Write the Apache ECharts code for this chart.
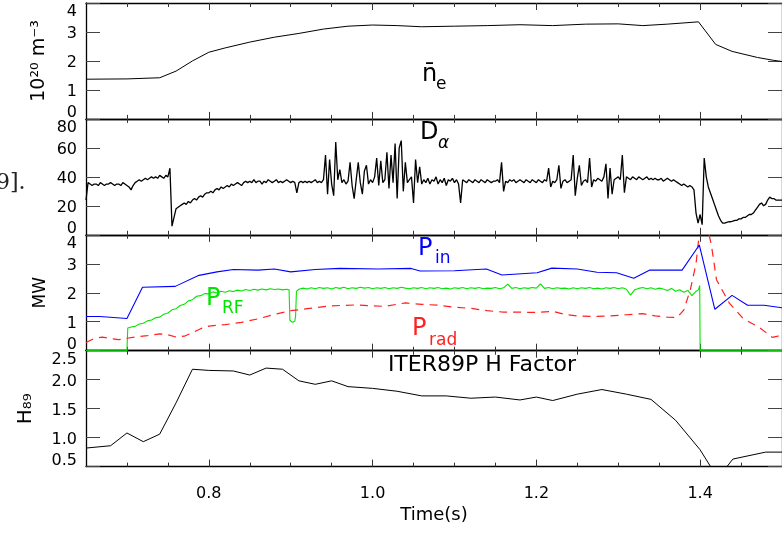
<!DOCTYPE html>
<html><head><meta charset="utf-8">
<script src="https://cdn.jsdelivr.net/npm/echarts@6/dist/echarts.min.js"></script>
<style>html,body{margin:0;padding:0;background:#fff;overflow:hidden}#c{width:782px;height:533px}</style>
</head><body><div id="c"></div>
<script>
// ---------------- data ----------------
const xMin = 0.65, xMax = 1.5;
const xMinorTicks = [0.70,0.75,0.80,0.85,0.90,0.95,1.00,1.05,1.10,1.15,1.20,1.25,1.30,1.35,1.40,1.45];
const xMajorTicks = [0.8,1.0,1.2,1.4];
const xTickLabels = ['0.8','1.0','1.2','1.4'];

// line-averaged density (10^20 m^-3)
const neTime   = [0.65,0.70,0.74,0.76,0.78,0.80,0.82,0.85,0.88,0.91,0.94,0.97,1.00,1.03,1.06,1.10,1.14,1.18,1.22,1.26,1.30,1.33,1.36,1.398,1.419,1.439,1.47,1.49,1.50];
const neValues = [1.37,1.38,1.42,1.65,2.0,2.3,2.45,2.65,2.82,2.95,3.1,3.2,3.24,3.22,3.18,3.2,3.22,3.25,3.22,3.27,3.28,3.22,3.27,3.35,2.57,2.33,2.12,2.02,1.98];

// D-alpha trace, sampled every 2.5 ms from 0.65 s
const daStart = 0.65, daStep = 0.0025;
const daValues = [
 24,36,35,34,35,35,34,36,35,34,35,35,36,35,34,35,35,34,36,35,
 34,33,31,34,36,37,38,37,38,39,38,39,40,39,40,39,41,40,39,41,
 40,46,6,12,18,19,20,21,22,21,23,22,24,25,24,26,27,26,28,29,
 29,30,29,31,32,31,33,32,33,34,33,35,34,35,36,35,34,36,37,36,
 37,36,38,36,37,37,35,37,36,38,37,36,37,38,36,37,36,37,38,37,
 36,37,36,29,36,37,36,37,36,37,36,37,38,36,37,36,38,55,28,52,
 35,27,64,38,45,36,38,35,37,50,34,25,38,50,36,28,44,48,35,38,
 36,40,53,34,51,36,38,57,32,55,36,63,25,60,65,30,50,36,38,40,
 22,52,36,47,35,38,36,39,35,38,37,40,35,38,36,39,34,38,37,39,
 36,38,35,22,38,37,36,38,37,36,38,37,36,38,37,36,38,37,36,37,
 37,38,36,50,30,37,36,38,37,38,36,37,38,37,36,38,37,36,38,37,
 36,38,37,36,38,37,46,33,37,36,38,48,32,37,38,36,37,38,55,27,
 39,48,34,37,38,36,53,33,38,37,39,38,37,40,49,25,46,28,38,39,
 40,38,55,29,40,39,38,40,39,38,40,39,38,39,40,38,39,38,39,38,
 38,39,37,38,39,38,37,38,37,36,35,34,35,34,33,34,33,31,15,8,
 14,7,53,40,33,29,25,21,17,13,10,8,8,8.5,9,9,9.5,10,10,11,
 11,12,12,13,14,14,15,17,19,21,22,20,21,24,26,25,25,24,24,24,
 24
];

// input power (MW)
const pinTime   = [0.65,0.667,0.70,0.719,0.759,0.788,0.81,0.83,0.86,0.88,0.90,0.93,0.96,1.007,1.047,1.058,1.10,1.139,1.158,1.201,1.219,1.25,1.274,1.298,1.319,1.338,1.378,1.399,1.418,1.439,1.458,1.478,1.50];
const pinValues = [1.18,1.18,1.11,2.19,2.22,2.6,2.72,2.8,2.78,2.82,2.72,2.8,2.84,2.82,2.84,2.75,2.76,2.82,2.61,2.69,2.85,2.82,2.71,2.69,2.5,2.78,2.78,3.65,1.43,1.91,1.57,1.57,1.48];

// RF power (MW)
const prfTime = [0.65,0.70,0.701,0.705,0.71,0.715,0.72,0.725,0.73,0.735,0.74,0.745,0.75,0.755,0.76,0.765,0.77,0.775,0.78,0.785,0.79,0.795,0.80,0.805,0.81,0.815,0.82,0.825,0.83,0.835,0.84,0.845,0.85,0.855,0.86,0.865,0.87,0.875,0.88,0.885,0.89,0.895,0.898,0.899,0.902,0.905,0.906,0.907,
 0.91,0.915,0.92,0.925,0.93,0.935,0.94,0.945,0.95,0.955,0.96,0.965,0.97,0.975,0.98,0.985,0.99,0.995,1.00,1.005,1.01,1.015,1.02,1.025,1.03,1.035,1.04,1.045,1.05,1.055,1.06,1.065,1.07,1.075,1.08,1.085,1.09,1.095,
 1.10,1.105,1.11,1.115,1.12,1.125,1.13,1.135,1.14,1.145,1.15,1.155,1.16,1.165,1.17,1.175,1.18,1.185,1.19,1.195,1.20,1.205,1.21,1.215,1.22,1.225,1.23,1.235,1.24,1.245,1.25,1.255,1.26,1.265,1.27,1.275,1.28,1.285,1.29,1.295,
 1.30,1.305,1.31,1.315,1.32,1.325,1.33,1.335,1.34,1.345,1.35,1.355,1.36,1.365,1.37,1.375,1.38,1.385,1.39,1.395,1.398,1.3995,1.40,1.50];
const prfValues = [0,0,0.78,0.82,0.84,0.92,0.95,1.03,1.06,1.14,1.16,1.26,1.3,1.41,1.45,1.56,1.6,1.72,1.76,1.88,1.9,1.97,1.96,2.03,1.99,2.05,2.02,2.07,2.04,2.09,2.06,2.11,2.08,2.12,2.09,2.13,2.1,2.14,2.11,2.13,2.1,2.12,2.1,1.05,0.98,1.02,1.2,2.05,
 2.12,2.16,2.13,2.17,2.14,2.18,2.15,2.17,2.13,2.18,2.15,2.19,2.14,2.17,2.15,2.19,2.16,2.18,2.14,2.17,2.15,2.18,2.14,2.17,2.15,2.19,2.16,2.14,2.17,2.15,2.18,2.14,2.17,2.15,2.18,2.14,2.16,2.13,
 2.17,2.15,2.18,2.14,2.17,2.15,2.18,2.14,2.16,2.15,2.18,2.14,2.17,2.3,2.15,2.18,2.14,2.17,2.15,2.18,2.16,2.31,2.15,2.18,2.14,2.17,2.15,2.16,2.13,2.17,2.14,2.17,2.15,2.18,2.14,2.16,2.13,2.17,2.15,2.18,
 2.14,2.17,2.12,1.92,2.1,2.15,2.18,2.14,2.17,2.12,2.16,2.13,2.08,2.15,2.05,2.1,2.02,2.08,1.9,2.05,2.1,2.25,0,0];

// radiated power (MW)
const pradTime   = [0.65,0.66,0.67,0.68,0.69,0.70,0.71,0.725,0.74,0.75,0.76,0.77,0.78,0.79,0.80,0.82,0.84,0.86,0.88,0.90,0.92,0.95,0.98,1.00,1.015,1.04,1.06,1.08,1.10,1.12,1.14,1.16,1.18,1.20,1.22,1.235,1.25,1.27,1.29,1.31,1.33,1.345,1.36,1.372,1.38,1.388,1.395,1.40,1.408,1.414,1.42,1.436,1.453,1.472,1.488,1.495,1.50];
const pradValues = [0.28,0.42,0.47,0.42,0.38,0.43,0.47,0.52,0.58,0.55,0.47,0.5,0.62,0.76,0.85,0.9,0.98,1.1,1.25,1.38,1.45,1.55,1.58,1.55,1.53,1.65,1.6,1.57,1.5,1.46,1.38,1.33,1.33,1.32,1.36,1.25,1.2,1.18,1.2,1.24,1.28,1.2,1.16,1.15,1.4,2.1,3.0,4.3,4.4,3.6,2.45,1.63,1.1,0.81,0.46,0.5,0.64];

// ITER89P H factor
const hTime   = [0.65,0.68,0.70,0.72,0.74,0.76,0.78,0.80,0.83,0.85,0.87,0.89,0.91,0.93,0.95,0.97,1.00,1.03,1.06,1.09,1.12,1.15,1.18,1.20,1.22,1.25,1.28,1.31,1.34,1.37,1.40,1.415,1.43,1.44,1.48,1.50];
const hValues = [0.82,0.86,1.08,0.93,1.06,1.6,2.18,2.16,2.15,2.08,2.2,2.18,1.98,1.92,1.98,1.88,1.85,1.8,1.72,1.72,1.68,1.7,1.65,1.7,1.64,1.75,1.83,1.75,1.66,1.3,0.79,0.45,0.45,0.63,0.75,0.75];

// y tick labels
const yTicks1 = [0,1,2,3,4],      yLabels1 = ['0','1','2','3','4'];
const yTicks2 = [0,20,40,60,80],  yLabels2 = ['0','20','40','60','80'];
const yTicks3 = [0,1,2,3,4],      yLabels3 = ['0','1','2','3','4'];
const yTicks4 = [0.5,1.0,1.5,2.0,2.5], yLabels4 = ['0.5','1.0','1.5','2.0','2.5'];

// ---------------- chart ----------------
const zip = (t, v) => t.map((x, i) => [x, v[i]]);
const daData = daValues.map((v, i) => [+(daStart + i * daStep).toFixed(4), v]);

const FONT = "'DejaVu Sans', 'Liberation Sans', sans-serif";
const tops = [3, 118.9, 234.8, 350.7];
const H = 115.9;
const panels = [
  {ticks: yTicks1, labels: yLabels1, name: '10²⁰ m⁻³', gap: 37, size: 19},
  {ticks: yTicks2, labels: yLabels2, name: '', gap: 0, size: 17},
  {ticks: yTicks3, labels: yLabels3, name: 'MW', gap: 37, size: 17},
  {ticks: yTicks4, labels: yLabels4, name: 'H₈₉', gap: 50, size: 20}
];

const grid = [], xAxis = [], yAxis = [];
const xIdx = [], yIdx = [];
panels.forEach((p, i) => {
  grid.push({left: 86, top: tops[i], width: 700, height: H});
  const base = {
    type: 'value', gridIndex: i, min: xMin, max: xMax,
    splitLine: {show: false}, axisLabel: {show: false}
  };
  xIdx.push(xAxis.length);
  xAxis.push(Object.assign({}, base, {
    position: 'bottom',
    axisLine: {show: true, onZero: false, lineStyle: {color: '#000', width: 1.3}},
    axisTick: {show: true, inside: true, length: 4, customValues: xMinorTicks, lineStyle: {color: '#333'}},
    axisLabel: i === 3 ? {show: true, customValues: xMajorTicks, margin: 19,
      formatter: v => xTickLabels[xMajorTicks.findIndex(m => Math.abs(m - v) < 1e-6)] || '',
      color: '#000', fontSize: 16, fontFamily: FONT} : {show: false},
    name: i === 3 ? 'Time(s)' : '', nameLocation: 'middle', nameGap: 40,
    nameTextStyle: {color: '#000', fontSize: 18, fontFamily: FONT}
  }));
  xAxis.push(Object.assign({}, base, {
    position: 'bottom', axisLine: {show: false, onZero: false},
    axisTick: {show: true, inside: true, length: 7, customValues: xMajorTicks, lineStyle: {color: '#333'}}
  }));
  xAxis.push(Object.assign({}, base, {
    position: 'top',
    axisLine: {show: true, onZero: false, lineStyle: {color: '#000', width: 1.3}},
    axisTick: {show: true, inside: true, length: 4, customValues: xMinorTicks, lineStyle: {color: '#333'}}
  }));
  xAxis.push(Object.assign({}, base, {
    position: 'top', axisLine: {show: false, onZero: false},
    axisTick: {show: true, inside: true, length: 7, customValues: xMajorTicks, lineStyle: {color: '#333'}}
  }));

  const yMin = p.ticks[0], yMax = p.ticks[p.ticks.length - 1];
  yIdx.push(yAxis.length);
  yAxis.push({
    type: 'value', gridIndex: i, position: 'left', min: yMin, max: yMax,
    interval: p.ticks[1] - p.ticks[0],
    splitLine: {show: false},
    axisLine: {show: true, onZero: false, lineStyle: {color: '#000', width: 1.3}},
    axisTick: {show: true, inside: true, length: 14, lineStyle: {color: '#444'}},
    axisLabel: {
      show: true, margin: 9, color: '#000', fontSize: 16, fontFamily: FONT,
      formatter: v => {
        const k = p.ticks.findIndex(t => Math.abs(t - v) < 1e-6);
        const s = p.labels[k];
        if (k === p.ticks.length - 1) return '{t|' + s + '}';
        if (k === 0) return '{b|' + s + '}';
        return '{m|' + s + '}';
      },
      rich: {
        t: {padding: [18, 0, 0, 0], fontSize: 16, fontFamily: FONT, color: '#000'},
        b: {padding: [0, 0, 12, 0], fontSize: 16, fontFamily: FONT, color: '#000'},
        m: {padding: [4, 0, 0, 0], fontSize: 16, fontFamily: FONT, color: '#000'}
      }
    },
    name: p.name, nameLocation: 'middle', nameGap: p.gap,
    nameTextStyle: {color: '#000', fontSize: p.size, fontFamily: FONT}
  });
  yAxis.push({
    type: 'value', gridIndex: i, position: 'right', min: yMin, max: yMax,
    interval: p.ticks[1] - p.ticks[0],
    splitLine: {show: false}, axisLabel: {show: false},
    axisLine: {show: true, onZero: false, lineStyle: {color: '#000', width: 1.3}},
    axisTick: {show: true, inside: true, length: 14, lineStyle: {color: '#444'}}
  });
});

const mkLine = (data, panel, color, width, dash) => ({
  type: 'line', data: data, xAxisIndex: xIdx[panel], yAxisIndex: yIdx[panel],
  showSymbol: false, symbol: 'none', clip: true, animation: false, silent: true,
  lineStyle: {color: color, width: width, type: dash || 'solid'}
});

const series = [
  mkLine(zip(neTime, neValues), 0, '#000', 1),
  mkLine(daData, 1, '#000', 1.3),
  mkLine(zip(prfTime, prfValues), 2, '#00e600', 1.1),
  mkLine(zip(pradTime, pradValues), 2, '#ff2020', 1.2, [8, 6]),
  mkLine(zip(pinTime, pinValues), 2, '#0000ff', 1.1),
  mkLine(zip(hTime, hValues), 3, '#000', 1)
];

const txt = (text, x, y, size, color, extra) => ({
  type: 'text', x: x, y: y, silent: true,
  style: Object.assign({text: text, fill: color, font: size + 'px ' + FONT, verticalAlign: 'middle', align: 'left'}, extra || {})
});

const graphic = [
  txt('n\u0304', 422, 75, 24, '#000'),
  txt('e', 436, 85, 17, '#000'),
  txt('D', 420, 133, 24, '#000'),
  txt('\u03b1', 438, 144, 17, '#000', {font: 'italic 17px ' + FONT}),
  txt('P', 418, 249, 24, '#0000ff'),
  txt('in', 435, 259, 17, '#0000ff'),
  txt('P', 206, 299, 24, '#00e600'),
  txt('RF', 222, 309, 17, '#00e600'),
  txt('P', 412, 329, 24, '#ff2020'),
  txt('rad', 429, 341, 17, '#ff2020'),
  txt('ITER89P H Factor', 482, 365, 22, '#000', {align: 'center'}),
  {type: 'text', x: -4, y: 183, silent: true,
   style: {text: '9].', fill: '#222', font: "22px 'DejaVu Serif', 'Liberation Serif', serif", verticalAlign: 'middle'}}
];

const chart = echarts.init(document.getElementById('c'), null, {renderer: 'canvas'});
chart.setOption({
  animation: false, backgroundColor: '#fff',
  grid: grid, xAxis: xAxis, yAxis: yAxis, series: series, graphic: graphic
});
</script></body></html>
